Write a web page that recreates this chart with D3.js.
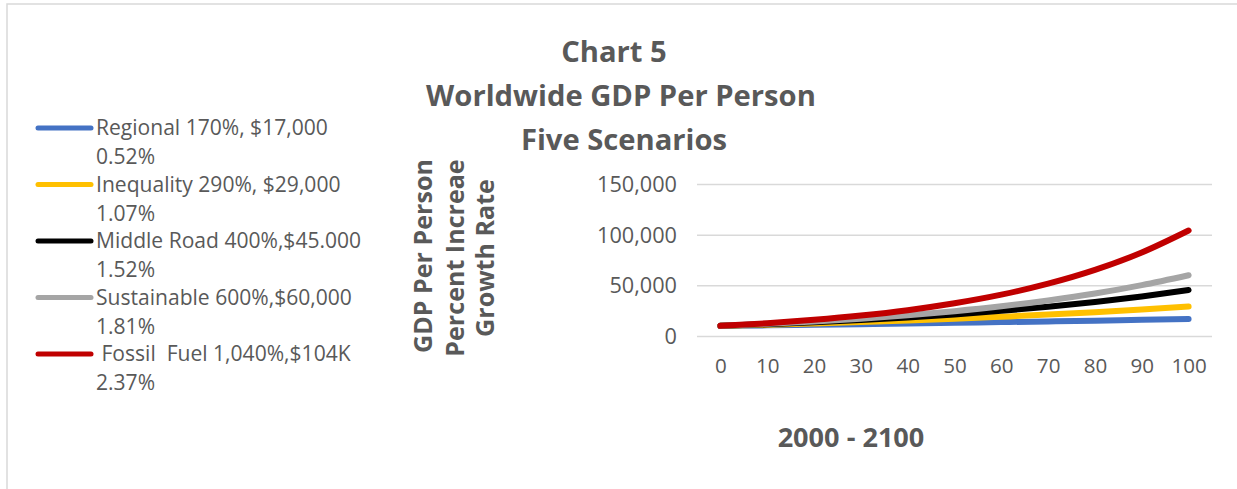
<!DOCTYPE html>
<html>
<head>
<meta charset="utf-8">
<script src="https://cdn.jsdelivr.net/npm/d3@7"></script>
<style>
  html, body { margin: 0; padding: 0; background: #fff; }
  svg { display: block; }
  text { font-family: "Open Sans", Lato, sans-serif; fill: #595959; }
</style>
</head>
<body>
<svg id="chart" width="1237" height="489"></svg>
<script>
// ---- data ----
const years = [0, 10, 20, 30, 40, 50, 60, 70, 80, 90, 100];
const seriesNames = [
  ["Regional 170%, $17,000", "0.52%"],
  ["Inequality 290%, $29,000", "1.07%"],
  ["Middle Road 400%,$45.000", "1.52%"],
  ["Sustainable 600%,$60,000", "1.81%"],
  [" Fossil  Fuel 1,040%,$104K", "2.37%"]
];
const seriesColors = ["#4472c4", "#ffc000", "#000000", "#a5a5a5", "#c00000"];
const regional    = [10000, 10500, 11100, 11700, 12300, 13000, 13700, 14400, 15100, 16000, 16800];
const inequality  = [10000, 11100, 12400, 13800, 15300, 17000, 19000, 21100, 23500, 26100, 29000];
const middleRoad  = [10000, 11600, 13500, 15700, 18300, 21300, 24800, 28800, 33500, 39000, 45300];
const sustainable = [10000, 12000, 14300, 17100, 20500, 24500, 29300, 35100, 41900, 50200, 60000];
const fossilFuel  = [10000, 12600, 16000, 20200, 25500, 32300, 40800, 51600, 65200, 82400, 104100];
const seriesValues = [regional, inequality, middleRoad, sustainable, fossilFuel];
const yTicks = [0, 50000, 100000, 150000];
const titleLines = ["Chart 5", "Worldwide GDP Per Person", "Five Scenarios"];
const yTitleLines = ["GDP Per Person", "Percent Increae", "Growth Rate"];
const xTitle = "2000 - 2100";

// ---- helpers ----
function fit(sel, target) {
  const n = sel.node();
  const fs = parseFloat(sel.attr("font-size"));
  const w = n.getComputedTextLength();
  const nf = fs * target / w;
  sel.attr("font-size", nf);
  return nf;
}

// ---- drawing ----
const svg = d3.select("#chart");

// frame
svg.append("rect").attr("x", 7).attr("y", 4).attr("width", 1240).attr("height", 500)
  .attr("fill", "none").attr("stroke", "#d9d9d9").attr("stroke-width", 1.5);

const plot = { left: 697, right: 1212, top: 184, bottom: 336 };

const x = d3.scalePoint().domain(years).range([plot.left, plot.right]).padding(0.5);
const y = d3.scaleLinear().domain([0, 150000]).range([plot.bottom, plot.top]);

// y axis + gridlines
const yAxis = d3.axisLeft(y).tickValues(yTicks).tickSize(-(plot.right - plot.left))
  .tickPadding(20).tickFormat(d3.format(","));
const gy = svg.append("g").attr("transform", `translate(${plot.left},0)`).call(yAxis);
gy.select(".domain").remove();
gy.selectAll(".tick line").attr("stroke", "#d9d9d9").attr("stroke-width", 1.5);
const yt = gy.selectAll(".tick text").attr("font-size", 19).attr("fill", "#595959")
  .style("font-family", "'Open Sans', sans-serif").attr("dy", "0.35em");
const tickFs = fit(yt.filter(d => d === 150000), 80);
yt.attr("font-size", tickFs);

const xAxis = d3.axisBottom(x).tickSize(0).tickPadding(22);
const gx = svg.append("g").attr("transform", `translate(0,${plot.bottom})`).call(xAxis);
gx.select(".domain").remove();
gx.selectAll(".tick text").attr("font-size", tickFs * 0.95).attr("fill", "#595959")
  .style("font-family", "'Open Sans', sans-serif");

// lines
const line = d3.line().x((d, i) => x(years[i])).y(d => y(d)).curve(d3.curveMonotoneX);
seriesValues.forEach((vals, k) => {
  svg.append("path").datum(vals).attr("d", line)
    .attr("fill", "none").attr("stroke", seriesColors[k]).attr("stroke-width", 6)
    .attr("stroke-linecap", "round").attr("stroke-linejoin", "round");
});

// title (one size, fitted to the widest line)
const titleY = [62, 106, 150];
const titleX = [614, 621, 624];
const titleSel = titleLines.map((t, i) =>
  svg.append("text").attr("x", titleX[i]).attr("y", titleY[i]).attr("text-anchor", "middle")
    .attr("font-size", 26).attr("font-weight", "bold").text(t));
const titleFs = fit(titleSel[1], 390);
titleSel.forEach(s => s.attr("font-size", titleFs));

// y axis title (rotated)
const yTitleX = [432, 464, 494];
const yTitleC = [256, 258, 258];
const ySel = yTitleLines.map((t, i) =>
  svg.append("text").attr("transform", `translate(${yTitleX[i]},${yTitleC[i]}) rotate(-90)`)
    .attr("text-anchor", "middle").attr("font-size", 23).attr("font-weight", "bold").text(t));
const yFs = fit(ySel[0], 194);
ySel.forEach(s => s.attr("font-size", yFs));

// x axis title
svg.append("text").attr("x", 851).attr("y", 447).attr("text-anchor", "middle")
  .attr("font-size", yFs * 1.08).attr("font-weight", "bold").text(xTitle);

// legend
let legFs = null;
seriesNames.forEach((nm, k) => {
  const ly = 128 + k * 56.5;
  svg.append("line").attr("x1", 38).attr("x2", 91).attr("y1", ly).attr("y2", ly)
    .attr("stroke", seriesColors[k]).attr("stroke-width", 5).attr("stroke-linecap", "round");
  const t1 = svg.append("text").attr("x", 96).attr("y", ly).attr("dy", "0.35em")
    .attr("font-size", legFs || 18).attr("xml:space", "preserve").style("white-space", "pre").text(nm[0]);
  if (legFs === null) legFs = fit(t1, 232);
  svg.append("text").attr("x", 96).attr("y", ly + 29).attr("dy", "0.35em")
    .attr("font-size", legFs).text(nm[1]);
});
</script>
</body>
</html>
